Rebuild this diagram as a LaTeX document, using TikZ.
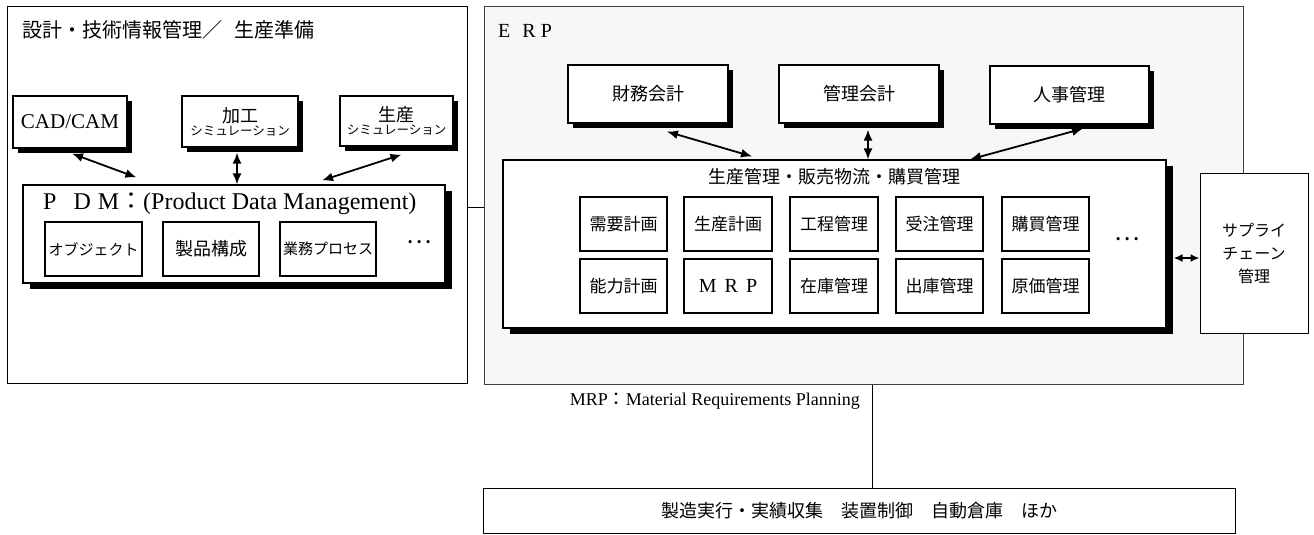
\documentclass[tikz,border=0pt]{standalone}
\usepackage{fontspec}
\setmainfont{Liberation Serif}
\newfontfamily\jp{Noto Sans CJK JP}
\usetikzlibrary{arrows.meta,shadows,calc}
\tikzset{
  bigframe/.style={draw, line width=1pt, inner sep=0pt},
  box/.style={draw, fill=white, line width=1.2pt, inner sep=0pt, align=center},
  shsmall/.style={drop shadow={shadow xshift=5pt,shadow yshift=-5pt,fill=black,opacity=1}},
  shbig/.style={drop shadow={shadow xshift=7pt,shadow yshift=-6pt,fill=black,opacity=1}},
  arr/.style={line width=1.8pt, {Latex[length=11pt,width=9pt]}-{Latex[length=11pt,width=9pt]}},
  sarr/.style={line width=1.8pt, {Latex[length=9pt,width=8pt]}-{Latex[length=9pt,width=8pt]}},
  jpbig/.style={font=\jp\fontsize{18}{22}\selectfont},
  jpmid/.style={font=\jp\fontsize{17}{21}\selectfont},
  jpkata/.style={font=\jp\fontsize{15}{18}\selectfont},
  plain/.style={inner sep=0pt},
}
\begin{document}
\begin{tikzpicture}[x=1pt,y=-1pt]
\useasboundingbox[fill=white] (0,0) rectangle (1314,535);

% ---------- left frame ----------
\node[bigframe, fill=white, minimum width=460pt, minimum height=376pt] (left) at (237,195) {};
\node[plain, anchor=west, font=\jp\fontsize{20}{24}\selectfont] (ltitle) at (22,30) {設計・技術情報管理／\hspace{12pt}生産準備};

\node[box, shsmall, minimum width=114pt, minimum height=52pt, font=\fontsize{21}{24}\selectfont] (cad) at (70,122) {CAD/CAM};
\node[box, shsmall, minimum width=116pt, minimum height=51pt] (kako) at (240,121.5)
  {{\jp\fontsize{18}{20}\selectfont 加工}\\[1pt]{\jp\fontsize{12.5}{14}\selectfont シミュレーション}};
\node[box, shsmall, minimum width=113pt, minimum height=50pt] (seisan) at (396.5,121)
  {{\jp\fontsize{18}{20}\selectfont 生産}\\[1pt]{\jp\fontsize{12.5}{14}\selectfont シミュレーション}};

\node[box, shbig, minimum width=422pt, minimum height=98pt] (pdm) at (234,234) {};
\node[plain, anchor=west, font=\fontsize{24}{28}\selectfont] (pdmtitle) at (43,204)
  {P\hspace{17pt}D\hspace{7pt}M{\jp ：}(Product Data Management)};
\node[box, jpkata, minimum width=97pt, minimum height=54pt] (obj) at (93.5,249) {オブジェクト};
\node[box, jpbig, minimum width=96pt, minimum height=54pt] (kosei) at (211,249) {製品構成};
\node[box, jpkata, minimum width=96pt, minimum height=54pt] (proc) at (328,249) {業務プロセス};
\node[plain, font=\jp\fontsize{24}{24}\selectfont] (pdmdots) at (419,242) {…};

\draw[arr] ([shift={(2,5)}]cad.south) -- ([shift={(114,-7)}]pdm.north west);
\draw[arr] ([shift={(-3,5)}]kako.south) -- ([shift={(3,0)}]pdm.north);
\draw[arr] ([shift={(5,8)}]seisan.south) -- ([shift={(88,-4)}]pdm.north);

% ---------- ERP frame ----------
\node[bigframe, draw=black!75, fill=black!3, minimum width=759pt, minimum height=377pt] (erp) at (863.5,195.5) {};
\node[plain, anchor=west, font=\fontsize{20}{24}\selectfont] (erptitle) at (498,31) {E\hspace{12pt}R\hspace{5pt}P};

\draw[line width=1pt] (left.east |- 0,207) -- (erp.west |- 0,207);

\node[box, shsmall, jpbig, minimum width=160pt, minimum height=58pt] (zaimu) at (648,94) {財務会計};
\node[box, shsmall, jpbig, minimum width=160pt, minimum height=58pt] (kanri) at (859,94) {管理会計};
\node[box, shsmall, jpbig, minimum width=159pt, minimum height=58pt] (jinji) at (1069.5,95) {人事管理};

\node[box, shbig, minimum width=663pt, minimum height=168pt] (main) at (834.5,244) {};
\node[plain, jpbig] (maintitle) at (834.5,177) {生産管理・販売物流・購買管理};

\node[box, jpmid, minimum width=87pt, minimum height=54pt] (g11) at (623.5,224) {需要計画};
\node[box, jpmid, minimum width=88pt, minimum height=54pt] (g12) at (728,224) {生産計画};
\node[box, jpmid, minimum width=88pt, minimum height=54pt] (g13) at (834,224) {工程管理};
\node[box, jpmid, minimum width=87pt, minimum height=54pt] (g14) at (939.5,224) {受注管理};
\node[box, jpmid, minimum width=87pt, minimum height=54pt] (g15) at (1045.5,224) {購買管理};
\node[box, jpmid, minimum width=87pt, minimum height=54pt] (g21) at (623.5,286) {能力計画};
\node[box, minimum width=88pt, minimum height=54pt, font=\fontsize{20}{24}\selectfont] (g22) at (728,286) {M\hspace{8pt}R\hspace{8pt}P};
\node[box, jpmid, minimum width=88pt, minimum height=54pt] (g23) at (834,286) {在庫管理};
\node[box, jpmid, minimum width=87pt, minimum height=54pt] (g24) at (939.5,286) {出庫管理};
\node[box, jpmid, minimum width=87pt, minimum height=54pt] (g25) at (1045.5,286) {原価管理};
\node[plain, font=\jp\fontsize{24}{24}\selectfont] (erpdots) at (1127,239) {…};

\draw[arr] ([shift={(19,8)}]zaimu.south) -- ([shift={(-82.5,-3)}]main.north);
\draw[arr] ([shift={(9,6)}]kanri.south) -- ([shift={(33.5,0)}]main.north);
\draw[arr] ([shift={(13.5,4)}]jinji.south) -- ([shift={(135.5,0)}]main.north);

\node[box, line width=1pt, minimum width=108pt, minimum height=160pt, font=\jp\fontsize{16}{23}\selectfont] (supply) at (1254,253) {サプライ\\チェーン\\管理};
\draw[sarr] ([shift={(7,14)}]main.east) -- ([shift={(0,5)}]supply.west);

% ---------- bottom ----------
\node[plain, anchor=east, font=\fontsize{18}{22}\selectfont] (mrpnote) at (860,401) {MRP{\jp ：}Material Requirements Planning};
\node[box, line width=1pt, minimum width=752pt, minimum height=45pt, font=\jp\fontsize{18}{22}\selectfont] (mes) at (859,510.5) {製造実行・実績収集　装置制御　自動倉庫　ほか};
\draw[line width=1pt] (erp.south -| 872,0) -- (mes.north -| 872,0);

\end{tikzpicture}
\end{document}
